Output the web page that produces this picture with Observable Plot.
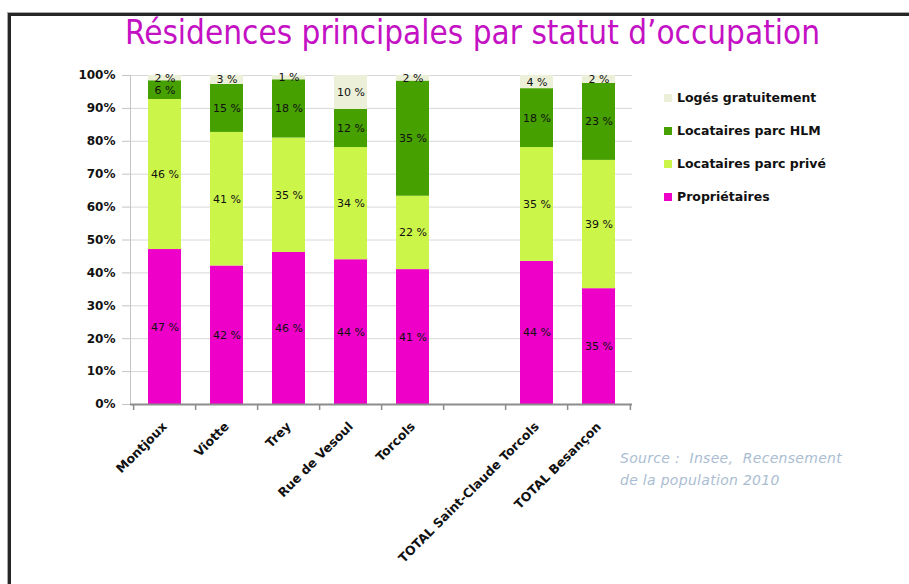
<!DOCTYPE html>
<html><head><meta charset="utf-8">
<script src="https://cdn.jsdelivr.net/npm/d3@7"></script>
<script src="https://cdn.jsdelivr.net/npm/@observablehq/plot@0.6"></script>
<style>
body{margin:0;background:#fff;}
#page{position:relative;width:909px;height:584px;overflow:hidden;font-family:"DejaVu Sans",sans-serif;background:#fff;}
#frame{position:absolute;left:8px;top:13px;right:-10px;bottom:-10px;border-left:3px solid #262626;border-top:3px solid #262626;box-shadow:-1px -1px 0 #aaa;}
#title{position:absolute;left:0;top:13px;width:945px;text-align:center;font-family:"Liberation Sans Narrow","DejaVu Sans Condensed",sans-serif;font-size:33px;color:#C411C4;white-space:nowrap;}
#chart{position:absolute;left:0;top:0;}
#legend{position:absolute;left:664px;top:81px;}
.item{display:flex;align-items:center;height:33px;font-weight:bold;font-size:12.5px;color:#111;}
.sw{width:8px;height:8px;margin-right:5px;}
#source{position:absolute;left:620px;top:447px;font-style:italic;font-size:14px;letter-spacing:0.3px;line-height:22px;color:#AABDD2;white-space:pre;}
</style></head>
<body>
<div id="page">
  <div id="frame"></div>
  <div id="chart"></div>
  <div id="title"></div>
  <div id="legend"></div>
  <div id="source"></div>
</div>
<script>
const titleText = "Résidences principales par statut d’occupation";
const sourceText = "Source :  Insee,  Recensement\nde la population 2010";
const categories = ["Montjoux","Viotte","Trey","Rue de Vesoul","Torcols"," ","TOTAL Saint-Claude Torcols","TOTAL Besançon"];
const series = ["Propriétaires","Locataires parc privé","Locataires parc HLM","Logés gratuitement"];
const proprietaires = [47.1, 42.1, 46.2, 44.0, 41.0, null, 43.5, 35.2];
const prive        = [45.6, 40.6, 34.8, 34.1, 22.3, null, 34.6, 39.0];
const hlm          = [ 5.7, 14.6, 17.7, 11.6, 35.0, null, 17.9, 23.4];
const loges        = [ 1.6,  2.7,  1.3, 10.3,  1.7, null,  4.0,  2.4];
const colors = ["#EE00C8","#CCF54A","#46A000","#ECF0D8"];
const yTicks = [0,10,20,30,40,50,60,70,80,90,100];

const seriesValues = [proprietaires, prive, hlm, loges];
const rows = [];
categories.forEach((c, i) => {
  series.forEach((s, j) => {
    const v = seriesValues[j][i];
    if (v != null) rows.push({cat: c, status: s, value: v});
  });
});

const W = 909, H = 584;
const mL = 130, mR = 277, mT = 75, mB = 180;
const step = (W - mL - mR) / categories.length;

const chart = Plot.plot({
  width: W, height: H,
  marginLeft: mL, marginRight: mR, marginTop: mT, marginBottom: mB,
  style: {fontFamily: "DejaVu Sans, sans-serif", background: "transparent", overflow: "visible"},
  x: {domain: categories, paddingInner: 0.47, paddingOuter: 0.235, label: null},
  y: {domain: [0, 1], label: null},
  color: {domain: series, range: colors},
  marks: [
    Plot.gridY(yTicks.map(d => d / 100), {stroke: "#d8d8d8", strokeOpacity: 1}),
    Plot.barY(rows, Plot.stackY({x: "cat", y: "value", fill: "status", order: series, offset: "normalize"})),
    Plot.text(rows, Plot.stackY({x: "cat", y: "value", z: "status", order: series, offset: "normalize",
      text: d => Math.round(d.value) + " %", fill: "#111", fontSize: 11})),
    Plot.frame({anchor: "left", stroke: "#c4c4c4"}),
    Plot.axisY(yTicks.map(d => d / 100), {tickFormat: d => Math.round(d * 100) + "%", tickSize: 8, tickPadding: 7,
      stroke: "#c4c4c4", fill: "#111", fontWeight: "bold", fontSize: 12, label: null}),
    Plot.ruleY([0], {stroke: "#8c8c8c", strokeWidth: 2}),
    Plot.axisX({tickSize: 6, dx: -step / 2, tickFormat: () => "", stroke: "#8c8c8c", strokeWidth: 1.5, label: null}),
    Plot.axisX([categories[categories.length - 1]], {tickSize: 6, dx: step / 2, tickFormat: () => "", stroke: "#8c8c8c", strokeWidth: 1.5, label: null}),
    Plot.axisX({tickSize: 0, tickRotate: -45, tickPadding: 20, dx: 0, tickFormat: d => d.trim(),
      fill: "#111", fontWeight: "bold", fontSize: 12.5, label: null})
  ]
});
document.getElementById("chart").appendChild(chart);

document.getElementById("title").textContent = titleText;
document.getElementById("source").textContent = sourceText;
const legend = document.getElementById("legend");
series.slice().reverse().forEach(s => {
  const it = document.createElement("div");
  it.className = "item";
  const sw = document.createElement("div");
  sw.className = "sw";
  sw.style.background = colors[series.indexOf(s)];
  it.appendChild(sw);
  it.appendChild(document.createTextNode(s));
  legend.appendChild(it);
});
</script>
</body></html>
